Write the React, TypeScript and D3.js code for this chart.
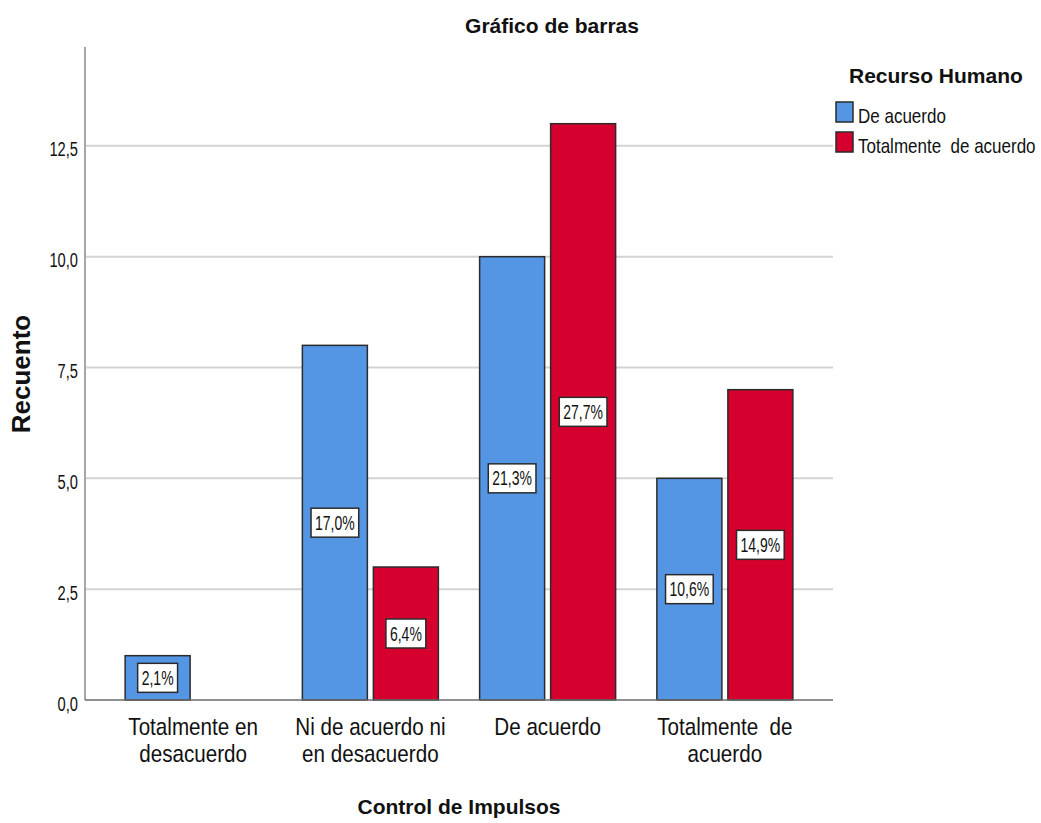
import React, { useEffect, useRef } from 'react';
import * as d3 from 'd3';

// Control de Impulsos categories (x axis)
const categories = [
  ['Totalmente en', 'desacuerdo'],
  ['Ni de acuerdo ni', 'en desacuerdo'],
  ['De acuerdo'],
  ['Totalmente  de', 'acuerdo'],
];
const categoryKeys = ['TED', 'NAND', 'DA', 'TDA'];

// Recurso Humano series
const series = ['De acuerdo', 'Totalmente  de acuerdo'];
const seriesColors = ['#5495E4', '#D6002F'];

const deAcuerdo = [1, 8, 10, 5];
const totalmenteDeAcuerdo = [0, 3, 13, 7];
const deAcuerdoPct = ['2,1%', '17,0%', '21,3%', '10,6%'];
const totalmentePct = ['', '6,4%', '27,7%', '14,9%'];

const yTicks = [0, 2.5, 5, 7.5, 10, 12.5];
const yMax = 14.73;

const FONT = '"Liberation Sans", Arial, sans-serif';

const App: React.FC = () => {
  const svgRef = useRef<SVGSVGElement>(null);

  useEffect(() => {
    if (!svgRef.current) return;
    const width = 1041;
    const height = 823;
    const plot = { left: 85, right: 833, top: 47, bottom: 700 };

    const svg = d3.select(svgRef.current);
    svg.selectAll('*').remove();
    svg.attr('width', width).attr('height', height);

    svg.append('rect').attr('width', width).attr('height', height).attr('fill', '#ffffff');

    const xScale = d3.scalePoint<string>()
      .domain(categoryKeys)
      .range([plot.left, plot.right])
      .padding(0.61);

    const inner = d3.scaleBand<string>()
      .domain(series)
      .range([-68, 68])
      .paddingInner(6 / 71);

    const yScale = d3.scaleLinear().domain([0, yMax]).range([plot.bottom, plot.top]);

    // helper for squeezed text
    const addText = (
      g: d3.Selection<any, unknown, null, undefined>,
      x: number, y: number, txt: string,
      size: number, sx: number, anchor: string, bold = false
    ) => g.append('text')
      .attr('transform', `translate(${x},${y}) scale(${sx},1)`)
      .attr('text-anchor', anchor)
      .attr('font-family', FONT)
      .attr('font-size', size)
      .attr('font-weight', bold ? 'bold' : 'normal')
      .attr('fill', '#111')
      .style('white-space', 'pre')
      .text(txt);

    // grid lines
    svg.append('g')
      .selectAll('line')
      .data(yTicks.filter((t) => t > 0))
      .enter()
      .append('line')
      .attr('x1', plot.left)
      .attr('x2', plot.right)
      .attr('y1', (d) => yScale(d))
      .attr('y2', (d) => yScale(d))
      .attr('stroke', '#d3d3d3')
      .attr('stroke-width', 2);

    // bars
    const rows = [deAcuerdo, totalmenteDeAcuerdo];
    const pcts = [deAcuerdoPct, totalmentePct];
    const barG = svg.append('g');
    const labelG = svg.append('g');
    rows.forEach((vals, s) => {
      vals.forEach((v, i) => {
        if (!v) return;
        const x = (xScale(categoryKeys[i]) || 0) + (inner(series[s]) || 0);
        barG.append('rect')
          .attr('x', x)
          .attr('y', yScale(v))
          .attr('width', inner.bandwidth())
          .attr('height', yScale(0) - yScale(v))
          .attr('fill', seriesColors[s])
          .attr('stroke', '#2b2b2b')
          .attr('stroke-width', 1.5);

        const cx = x + inner.bandwidth() / 2;
        const cy = yScale(v / 2);
        const t = addText(labelG, cx, cy + 7, pcts[s][i], 20, 0.7, 'middle');
        const bw = (t.node() as SVGTextElement).getComputedTextLength() * 0.7 + 8;
        labelG.insert('rect', 'text')
          .attr('x', cx - bw / 2)
          .attr('y', cy - 14.5)
          .attr('width', bw)
          .attr('height', 29)
          .attr('fill', '#ffffff')
          .attr('stroke', '#2b2b2b')
          .attr('stroke-width', 1.5);
        labelG.node()!.appendChild(t.node()!);
      });
    });

    // axes lines
    svg.append('line')
      .attr('x1', plot.left).attr('x2', plot.left)
      .attr('y1', plot.top).attr('y2', plot.bottom)
      .attr('stroke', '#a6a6a6').attr('stroke-width', 2);
    svg.append('line')
      .attr('x1', plot.left).attr('x2', plot.right)
      .attr('y1', plot.bottom).attr('y2', plot.bottom)
      .attr('stroke', '#6b6b6b').attr('stroke-width', 1.5);

    // y tick labels
    const tickG = svg.append('g');
    yTicks.forEach((t) => {
      addText(tickG, 78, yScale(t) + 10.5, d3.format('.1f')(t).replace('.', ','), 21, 0.7, 'end');
    });

    // category labels
    const catG = svg.append('g');
    categories.forEach((lines, i) => {
      const cx = xScale(categoryKeys[i]) || 0;
      lines.forEach((ln, j) => {
        addText(catG, cx, 735 + j * 27, ln, 24, 0.86, 'middle');
      });
    });

    // titles
    const titleG = svg.append('g');
    addText(titleG, 552, 33, 'Gráfico de barras', 21, 1, 'middle', true);
    addText(titleG, (plot.left + plot.right) / 2, 814, 'Control de Impulsos', 21, 1, 'middle', true);
    titleG.append('text')
      .attr('transform', `translate(30,374) rotate(-90)`)
      .attr('text-anchor', 'middle')
      .attr('font-family', FONT)
      .attr('font-size', 26)
      .attr('font-weight', 'bold')
      .attr('fill', '#111')
      .text('Recuento');

    // legend
    const legG = svg.append('g');
    addText(legG, 849, 83, 'Recurso Humano', 21, 1, 'start', true);
    series.forEach((name, s) => {
      legG.append('rect')
        .attr('x', 836)
        .attr('y', 102 + s * 30)
        .attr('width', 17)
        .attr('height', 20)
        .attr('fill', seriesColors[s])
        .attr('stroke', '#2b2b2b')
        .attr('stroke-width', 1.5);
      addText(legG, 858, 123 + s * 30, name, 20, 0.85, 'start');
    });
  }, []);

  return (
    <div style={{ position: 'absolute', left: 0, top: 0 }}>
      <svg ref={svgRef} style={{ display: 'block' }} />
    </div>
  );
};

export default App;
